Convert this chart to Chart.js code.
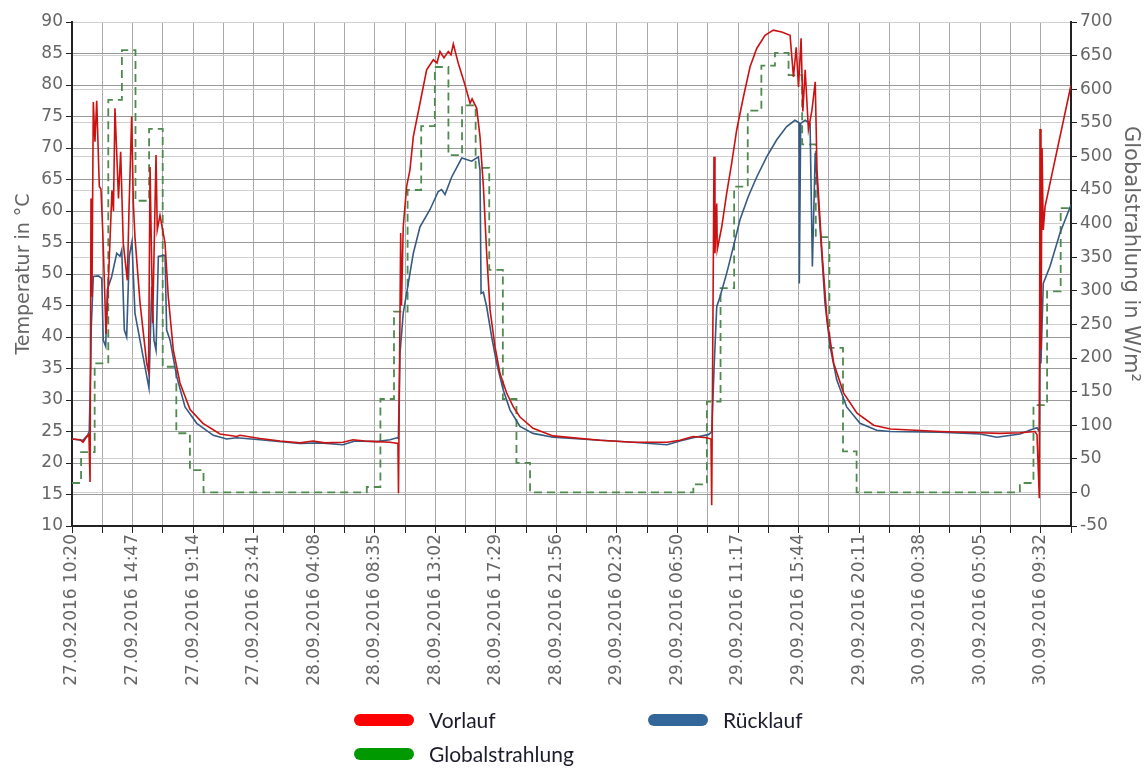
<!DOCTYPE html>
<html>
<head>
<meta charset="utf-8">
<script src="https://cdn.jsdelivr.net/npm/chart.js@4/dist/chart.umd.min.js"></script>
<style>
  body { margin: 0; background: #fff; }
  #wrap { position: relative; width: 1146px; height: 769px; }
  .lg { position: absolute; display: flex; align-items: center; font-family: Lato, "Open Sans", sans-serif; font-size: 21px; color: #1c1c2c; }
  .sw { width: 60px; height: 12px; border-radius: 6px; margin-right: 15px; }
</style>
</head>
<body>
<div id="wrap">
  <canvas id="chart" width="1146" height="769"></canvas>
  <div class="lg" style="left:354px;top:707px"><div class="sw" style="background:#ff0000"></div>Vorlauf</div>
  <div class="lg" style="left:648px;top:707px"><div class="sw" style="background:#336699"></div>Rücklauf</div>
  <div class="lg" style="left:354px;top:741px"><div class="sw" style="background:#009900"></div>Globalstrahlung</div>
</div>
<script>
// Zeit = Stunden seit 27.09.2016 00:00

var xLabels = [
  "27.09.2016 10:20", "27.09.2016 14:47", "27.09.2016 19:14", "27.09.2016 23:41",
  "28.09.2016 04:08", "28.09.2016 08:35", "28.09.2016 13:02", "28.09.2016 17:29",
  "28.09.2016 21:56", "29.09.2016 02:23", "29.09.2016 06:50", "29.09.2016 11:17",
  "29.09.2016 15:44", "29.09.2016 20:11", "30.09.2016 00:38", "30.09.2016 05:05",
  "30.09.2016 09:32"
];
var xStart = 620 / 60;        // 27.09. 10:20
var xStep = 133.5 / 60;       // halbe Beschriftungsweite
var xTickCount = 34;

// Vorlauf (°C)
var vorlaufT = [
  10.33, 10.92, 11.14, 11.36, 11.58, 11.66, 11.73, 11.80, 11.90, 12.02, 12.15, 12.34, 12.46, 12.59,
  12.71, 12.83, 12.93, 13.07, 13.27, 13.38, 13.49, 13.64, 13.75, 13.91, 14.10, 14.40, 14.52, 14.72,
  14.84, 14.96, 15.33, 15.82, 15.96, 16.07, 16.26, 16.51, 16.60, 16.80, 17.17, 17.41, 17.78, 18.27,
  19.01, 19.96, 21.21, 22.44, 22.68, 24.15, 25.62, 27.09, 28.05, 28.93, 30.25, 30.99, 31.87, 32.75,
  33.71, 34.29, 34.33, 34.49, 34.55, 34.68, 34.93, 35.17, 35.42, 35.91, 36.40, 36.89, 37.16, 37.38,
  37.67, 37.99, 38.19, 38.36, 38.73, 39.22, 39.59, 39.74, 40.08, 40.32, 40.57, 40.81, 41.06, 41.42,
  41.79, 42.28, 42.77, 43.26, 44.22, 45.69, 49.14, 51.57, 54.07, 55.02, 55.98, 56.98, 57.30, 57.35,
  57.52, 57.59, 57.72, 57.76, 58.09, 58.45, 58.82, 59.19, 59.68, 60.17, 60.66, 61.27, 61.88, 62.50,
  63.11, 63.36, 63.56, 63.73, 63.92, 64.05, 64.22, 64.46, 64.72, 64.96, 65.09, 65.46, 65.83, 66.32,
  67.05, 68.03, 69.25, 70.48, 74.13, 77.07, 78.54, 80.01, 81.11, 81.26, 81.43, 81.48, 81.55, 81.63,
  81.72, 81.85, 83.76
];
var vorlaufV = [
  23.8, 23.7, 23.3, 24.0, 24.5, 17.0, 62.0, 46.4, 77.3, 71.0, 77.5, 63.9, 63.5, 57.0,
  49.0, 40.5, 45.0, 52.2, 63.3, 60.0, 76.3, 68.1, 62.0, 69.4, 54.9, 49.0, 60.0, 75.0,
  61.3, 55.9, 45.5, 35.9, 34.5, 67.0, 42.2, 68.9, 57.0, 59.3, 54.9, 46.4, 37.9, 32.7,
  28.5, 26.3, 24.6, 24.2, 24.4, 23.9, 23.5, 23.2, 23.5, 23.2, 23.3, 23.7, 23.5, 23.4,
  23.3, 23.1, 15.2, 56.5, 45.0, 57.5, 63.9, 66.5, 71.8, 77.1, 82.4, 84.0, 83.5, 85.3,
  84.3, 85.3, 84.8, 86.5, 83.4, 80.0, 77.1, 77.8, 76.3, 71.8, 63.9, 53.3, 44.3, 38.5,
  34.2, 31.1, 28.9, 27.3, 25.5, 24.3, 23.6, 23.3, 23.3, 23.6, 24.2, 24.0, 23.8, 13.3,
  68.6, 53.3, 61.2, 53.9, 57.5, 62.8, 67.6, 72.9, 78.1, 82.9, 85.8, 87.9, 88.7, 88.4,
  87.9, 81.3, 86.0, 79.7, 87.4, 75.8, 82.4, 72.9, 76.0, 80.5, 66.5, 53.3, 42.7, 35.8,
  31.1, 27.9, 26.0, 25.4, 25.0, 24.8, 24.7, 24.8, 25.0, 24.5, 14.4, 73.0, 38.0, 70.0,
  57.0, 60.7, 80.0
];

// Rücklauf (°C)
var ruecklaufT = [
  10.33, 11.14, 11.50, 11.60, 11.71, 11.75, 11.90, 12.27, 12.52, 12.63, 12.81, 12.93, 13.25, 13.62,
  13.86, 13.99, 14.18, 14.35, 14.54, 14.74, 14.96, 15.99, 16.19, 16.36, 16.51, 16.68, 17.17, 17.29,
  17.54, 18.03, 18.64, 19.50, 20.72, 21.70, 22.44, 24.15, 27.09, 28.56, 30.25, 31.13, 32.75, 33.71,
  34.22, 34.32, 34.44, 34.68, 35.05, 35.42, 35.91, 36.64, 37.25, 37.50, 37.75, 38.24, 38.98, 39.71,
  40.20, 40.32, 40.40, 40.57, 40.81, 41.18, 41.55, 42.03, 42.53, 43.26, 44.22, 45.69, 49.14, 51.57,
  54.07, 55.02, 55.98, 57.10, 57.35, 57.52, 57.72, 57.96, 58.45, 58.94, 59.43, 60.04, 60.66, 61.39,
  62.13, 62.86, 63.47, 63.77, 63.79, 63.89, 64.22, 64.58, 64.75, 64.96, 65.31, 65.68, 66.05, 66.54,
  67.27, 68.25, 69.48, 70.48, 74.13, 77.07, 78.30, 80.01, 80.87, 81.26, 81.43, 81.48, 81.55, 81.72,
  82.21, 82.95, 83.76
];
var ruecklaufV = [
  23.8, 23.6, 24.5, 25.0, 35.3, 41.6, 49.6, 49.7, 49.3, 39.5, 38.5, 47.5, 49.6, 53.3,
  52.8, 53.8, 41.1, 40.0, 52.8, 55.1, 43.8, 31.9, 48.0, 39.5, 37.9, 52.8, 53.0, 41.1,
  39.5, 33.7, 28.9, 26.3, 24.4, 23.8, 24.0, 23.7, 23.1, 23.2, 22.9, 23.5, 23.4, 23.7,
  24.0, 23.9, 37.4, 43.8, 48.5, 53.3, 57.5, 60.2, 63.1, 63.4, 62.6, 65.4, 68.4, 67.9,
  68.6, 66.5, 46.9, 47.1, 44.8, 40.0, 35.8, 31.6, 28.4, 25.8, 24.7, 24.1, 23.6, 23.3,
  22.9, 23.5, 24.0, 24.5, 24.9, 34.8, 44.8, 46.4, 50.1, 54.3, 58.6, 62.3, 65.4, 68.6,
  71.3, 73.4, 74.4, 74.0, 48.5, 73.9, 74.4, 73.9, 51.2, 69.2, 57.5, 45.3, 38.5, 33.2,
  28.9, 26.3, 25.2, 25.0, 24.9, 24.6, 24.1, 24.6, 25.3, 25.6, 25.0, 43.8, 35.8, 48.5,
  51.2, 56.5, 61.0
];

// Globalstrahlung (W/m², Stundenwerte)
var strahlungT = [
  10.33, 11, 12, 13, 14, 15, 16, 17, 18, 19, 20, 21, 22, 23, 24, 25, 26, 27, 28, 29, 30, 31,
  32, 33, 34, 35, 36, 37, 38, 39, 40, 41, 42, 43, 44, 45, 46, 47, 48, 49, 50, 51, 52, 53, 54, 55,
  56, 57, 58, 59, 60, 61, 62, 63, 64, 65, 66, 67, 68, 69, 70, 71, 72, 73, 74, 75, 76, 77, 78, 79,
  80, 81, 82, 83, 83.76
];
var strahlungV = [
  14, 60, 192, 584, 658, 434, 541, 187, 88, 33, 0, 0, 0, 0, 0, 0, 0, 0, 0, 0, 0, 0,
  8, 139, 269, 450, 545, 633, 502, 576, 483, 331, 139, 44, 0, 0, 0, 0, 0, 0, 0, 0, 0, 0, 0, 0,
  12, 135, 304, 455, 568, 635, 654, 621, 518, 380, 215, 61, 0, 0, 0, 0, 0, 0, 0, 0, 0, 0, 0, 0,
  14, 130, 299, 423, 423
];

var rightTitle = "Globalstrahlung in W/m²";

function toPoints(ts, vs) {
  return ts.map(function(t, i) { return { x: t, y: vs[i] }; });
}

var tickFont = { family: "DejaVu Sans", size: 17 };

// rechte Achsenbeschriftung etwas nach oben versetzt wie im Original
var rightTitlePlugin = {
  id: "rightTitle",
  afterDraw: function(chart) {
    var ctx = chart.ctx;
    ctx.save();
    ctx.translate(1130, 254);
    ctx.rotate(Math.PI / 2);
    ctx.font = "21px 'DejaVu Sans'";
    ctx.fillStyle = "#666";
    ctx.textAlign = "center";
    ctx.textBaseline = "middle";
    ctx.fillText(rightTitle, 0, 0);
    ctx.restore();
  },
};

new Chart(document.getElementById("chart").getContext("2d"), {
  type: "line",
  data: {
    datasets: [
      {
        label: "Vorlauf", data: toPoints(vorlaufT, vorlaufV), yAxisID: "y",
        borderColor: "#cc1111", borderWidth: 1.6, pointRadius: 0, tension: 0,
      },
      {
        label: "Rücklauf", data: toPoints(ruecklaufT, ruecklaufV), yAxisID: "y",
        borderColor: "#365a82", borderWidth: 1.6, pointRadius: 0, tension: 0,
      },
      {
        label: "Globalstrahlung", data: toPoints(strahlungT, strahlungV), yAxisID: "y2",
        borderColor: "#4f8a4f", borderWidth: 1.8, borderDash: [8, 5], pointRadius: 0,
        stepped: "before",
      },
    ],
  },
  options: {
    responsive: false, animation: false,
    layout: { padding: { top: 22, left: 13, right: 4, bottom: 0 } },
    plugins: { legend: { display: false }, tooltip: { enabled: false } },
    scales: {
      x: {
        type: "linear", min: xStart, max: xStart + (xTickCount - 1) * xStep,
        afterBuildTicks: function(scale) {
          var t = [];
          for (var i = 0; i < xTickCount; i++) t.push({ value: xStart + i * xStep });
          scale.ticks = t;
        },
        afterFit: function(scale) { scale.height = 769 - 526; },
        grid: { color: "#aaaaaa", tickColor: "#222", tickLength: 7 },
        border: { color: "#222", width: 2 },
        ticks: {
          autoSkip: false, minRotation: 90, maxRotation: 90, padding: 1,
          font: tickFont, color: "#666",
          callback: function(v, i) { return i % 2 === 0 ? xLabels[i / 2] : ""; },
        },
      },
      y: {
        position: "left", min: 10, max: 90,
        afterFit: function(scale) { scale.width = 59; },
        grid: { color: "#9a9a9a", tickColor: "#222", tickLength: 6 },
        border: { color: "#222", width: 2 },
        ticks: { stepSize: 5, font: tickFont, color: "#666", padding: 3 },
        title: { display: true, text: "Temperatur in °C", font: { family: "DejaVu Sans", size: 19 }, color: "#666", padding: 0 },
      },
      y2: {
        position: "right", min: -50, max: 700,
        afterFit: function(scale) { scale.width = 71; },
        grid: { color: "#cfcfcf", tickColor: "#222", tickLength: 6 },
        border: { color: "#222", width: 2 },
        ticks: { stepSize: 50, font: tickFont, color: "#666", padding: 3 },
      },
    },
  },
  plugins: [rightTitlePlugin],
});
</script>
</body>
</html>
